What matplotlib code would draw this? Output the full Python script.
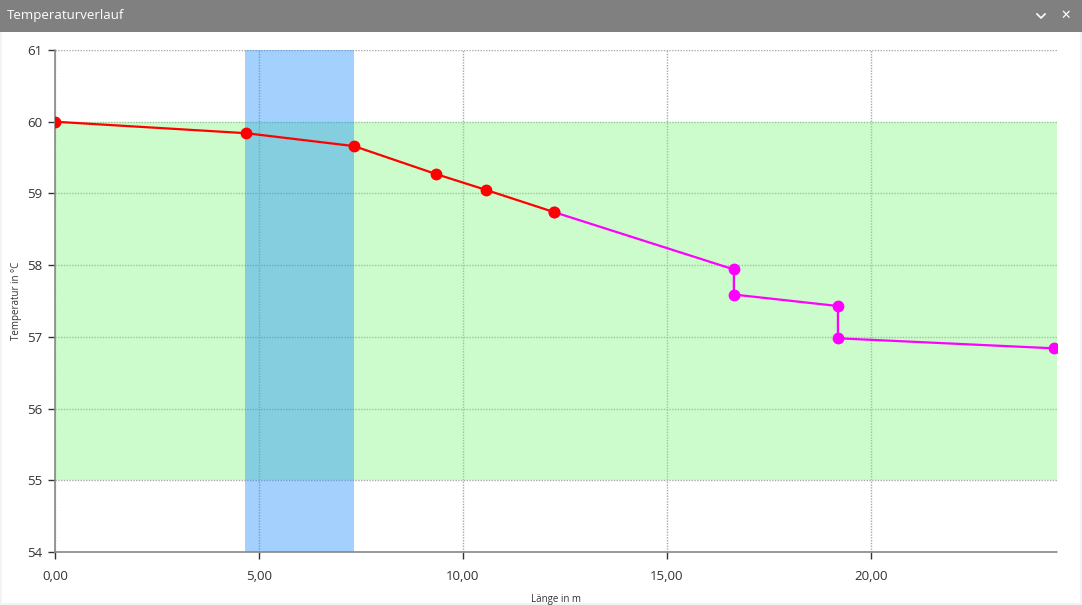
import matplotlib.pyplot as plt
from matplotlib.patches import Rectangle
from matplotlib.lines import Line2D
from matplotlib.ticker import FuncFormatter

# Messpunkte (Länge in m, Temperatur in °C)
red_x = [0.0, 4.68, 7.33, 9.34, 10.56, 12.23]
red_y = [60.0, 59.84, 59.66, 59.27, 59.05, 58.74]
magenta_x = [12.23, 16.64, 16.64, 19.19, 19.19, 24.49]
magenta_y = [58.74, 57.94, 57.59, 57.43, 56.98, 56.84]

# Bereiche
band_low, band_high = 55, 60
span_start, span_end = 4.66, 7.33

x_ticks = [0, 5, 10, 15, 20]
y_ticks = [54, 55, 56, 57, 58, 59, 60, 61]

plt.rcParams['font.family'] = ['Open Sans', 'DejaVu Sans']

W, H = 1082, 605
fig = plt.figure(figsize=(W / 100, H / 100), dpi=100)
fig.patch.set_facecolor('#f3f3f3')

# Fenster mit Titelleiste
fig.patches.append(Rectangle((2 / W, 2 / H), 1 - 4 / W, 1, transform=fig.transFigure,
                             facecolor='white', edgecolor='none', zorder=-10))
fig.patches.append(Rectangle((0, 1 - 32 / H), 1, 32 / H, transform=fig.transFigure,
                             facecolor='#808080', edgecolor='none', zorder=-5))
fig.text(7 / W, 1 - 16 / H, 'Temperaturverlauf', color='white', fontsize=9.5,
         va='center', ha='left', family=['Open Sans', 'DejaVu Sans'])
fig.text(1066 / W, 1 - 15 / H, '✕', color='white', fontsize=9, va='center', ha='center',
         family=['DejaVu Sans'])
fig.lines.append(Line2D([1037 / W, 1041 / W, 1045 / W], [1 - 14 / H, 1 - 18 / H, 1 - 14 / H],
                        transform=fig.transFigure, color='white', lw=1.2))

ax = fig.add_axes([55 / W, 53 / H, 1002 / W, 502 / H])
ax.set_facecolor('white')

# Grenzbereich und markierter Abschnitt halbtransparent über dem Gitter
ax.axhspan(band_low, band_high, color=(128 / 255, 248 / 255, 128 / 255), alpha=0.4,
           zorder=1, lw=0)
ax.axvspan(span_start, span_end, color=(32 / 255, 141 / 255, 252 / 255), alpha=0.41,
           zorder=1.5, lw=0)

ax.plot(red_x, red_y, color='#ff0000', lw=1.6, marker='o', markersize=7.5, zorder=4)
ax.plot(magenta_x, magenta_y, color='#ff00ff', lw=1.6, marker='o', markersize=7.5, zorder=3)

ax.set_xlim(0, 24.56)
ax.set_ylim(54, 61)
ax.set_xticks(x_ticks)
ax.set_yticks(y_ticks)
ax.xaxis.set_major_formatter(FuncFormatter(lambda v, p: f'{v:.2f}'.replace('.', ',')))

ax.set_axisbelow(True)
ax.grid(True, color='#a8a8a8', linestyle=(0, (1, 1)), lw=1)
for s in ['top', 'right']:
    ax.spines[s].set_visible(False)
for s in ['left', 'bottom']:
    ax.spines[s].set_color('#888888')
    ax.spines[s].set_linestyle((0, (1, 1)))
    ax.spines[s].set_linewidth(1.2)
    ax.spines[s].set_zorder(2.5)

ax.tick_params(axis='both', length=5, width=1, color='#333333', labelsize=9.5,
               labelcolor='#333333', pad=4)
ax.tick_params(axis='x', pad=8)

ax.set_xlabel('Länge in m', fontsize=7, color='#333333')
ax.set_ylabel('Temperatur in °C', fontsize=7, color='#333333')
ax.xaxis.set_label_coords(0.5, -0.084)
ax.yaxis.set_label_coords(-0.033, 0.5)

plt.savefig('out.png', dpi=100, facecolor=fig.get_facecolor())
